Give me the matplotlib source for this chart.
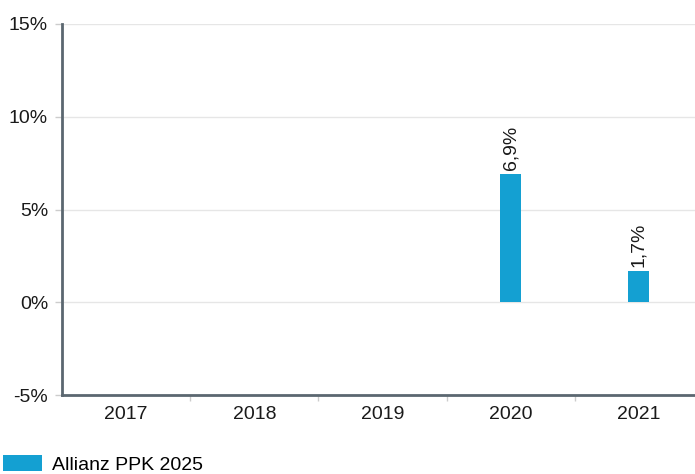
import numpy as np
import matplotlib.pyplot as plt
from matplotlib.patches import Patch

plt.rcParams['font.family'] = ['Liberation Sans', 'DejaVu Sans']

# data
years = ['2017', '2018', '2019', '2020', '2021']
returns = [np.nan, np.nan, np.nan, 6.9, 1.7]
series_name = 'Allianz PPK 2025'
y_ticks = [-5, 0, 5, 10, 15]

bar_color = '#14a0d2'
axis_color = '#5b6770'
grid_color = '#e6e6e6'

fig = plt.figure(figsize=(6.95, 4.74), dpi=100)
# plot area runs a little past the right edge, as in the original
ax = fig.add_axes([62 / 695, 1 - 395 / 474, 641 / 695, (395 - 24) / 474])

x = np.arange(len(years))
ax.bar(x, returns, width=0.165, color=bar_color, zorder=3)

for xi, v in zip(x, returns):
    if np.isnan(v):
        continue
    ax.annotate('{:.1f}%'.format(v).replace('.', ','), (xi, v),
                xytext=(0, 3), textcoords='offset points',
                rotation=90, ha='center', va='bottom', fontsize=14, color='#1a1a1a')

ax.set_xlim(-0.5, len(years) - 0.5)
ax.set_ylim(-5, 15)
ax.set_yticks(y_ticks)
ax.set_yticklabels(['{}%'.format(t) for t in y_ticks], fontsize=14, color='#1a1a1a')
ax.set_xticks(x)
ax.set_xticklabels(years, fontsize=14, color='#1a1a1a')
ax.set_xticks(np.arange(0.5, len(years) - 1, 1), minor=True)

ax.tick_params(axis='y', length=5, width=1, color='#cccccc', pad=5)
ax.tick_params(axis='x', which='major', length=0, pad=8)
ax.tick_params(axis='x', which='minor', length=4, width=1, color='#cccccc')

ax.grid(axis='y', color=grid_color, linewidth=1, zorder=0)
ax.spines['top'].set_visible(False)
ax.spines['right'].set_visible(False)
for s in ['left', 'bottom']:
    ax.spines[s].set_color(axis_color)
    ax.spines[s].set_linewidth(2)
    ax.spines[s].set_zorder(4)

handles = [Patch(facecolor=bar_color, edgecolor='none', label=series_name)]
fig.legend(handles=handles, loc='lower left', bbox_to_anchor=(0.004, 0.0),
           frameon=False, fontsize=14, handlelength=2.0, handleheight=0.9,
           handletextpad=0.55, borderaxespad=0, borderpad=0)

plt.savefig('out.png', dpi=100)
